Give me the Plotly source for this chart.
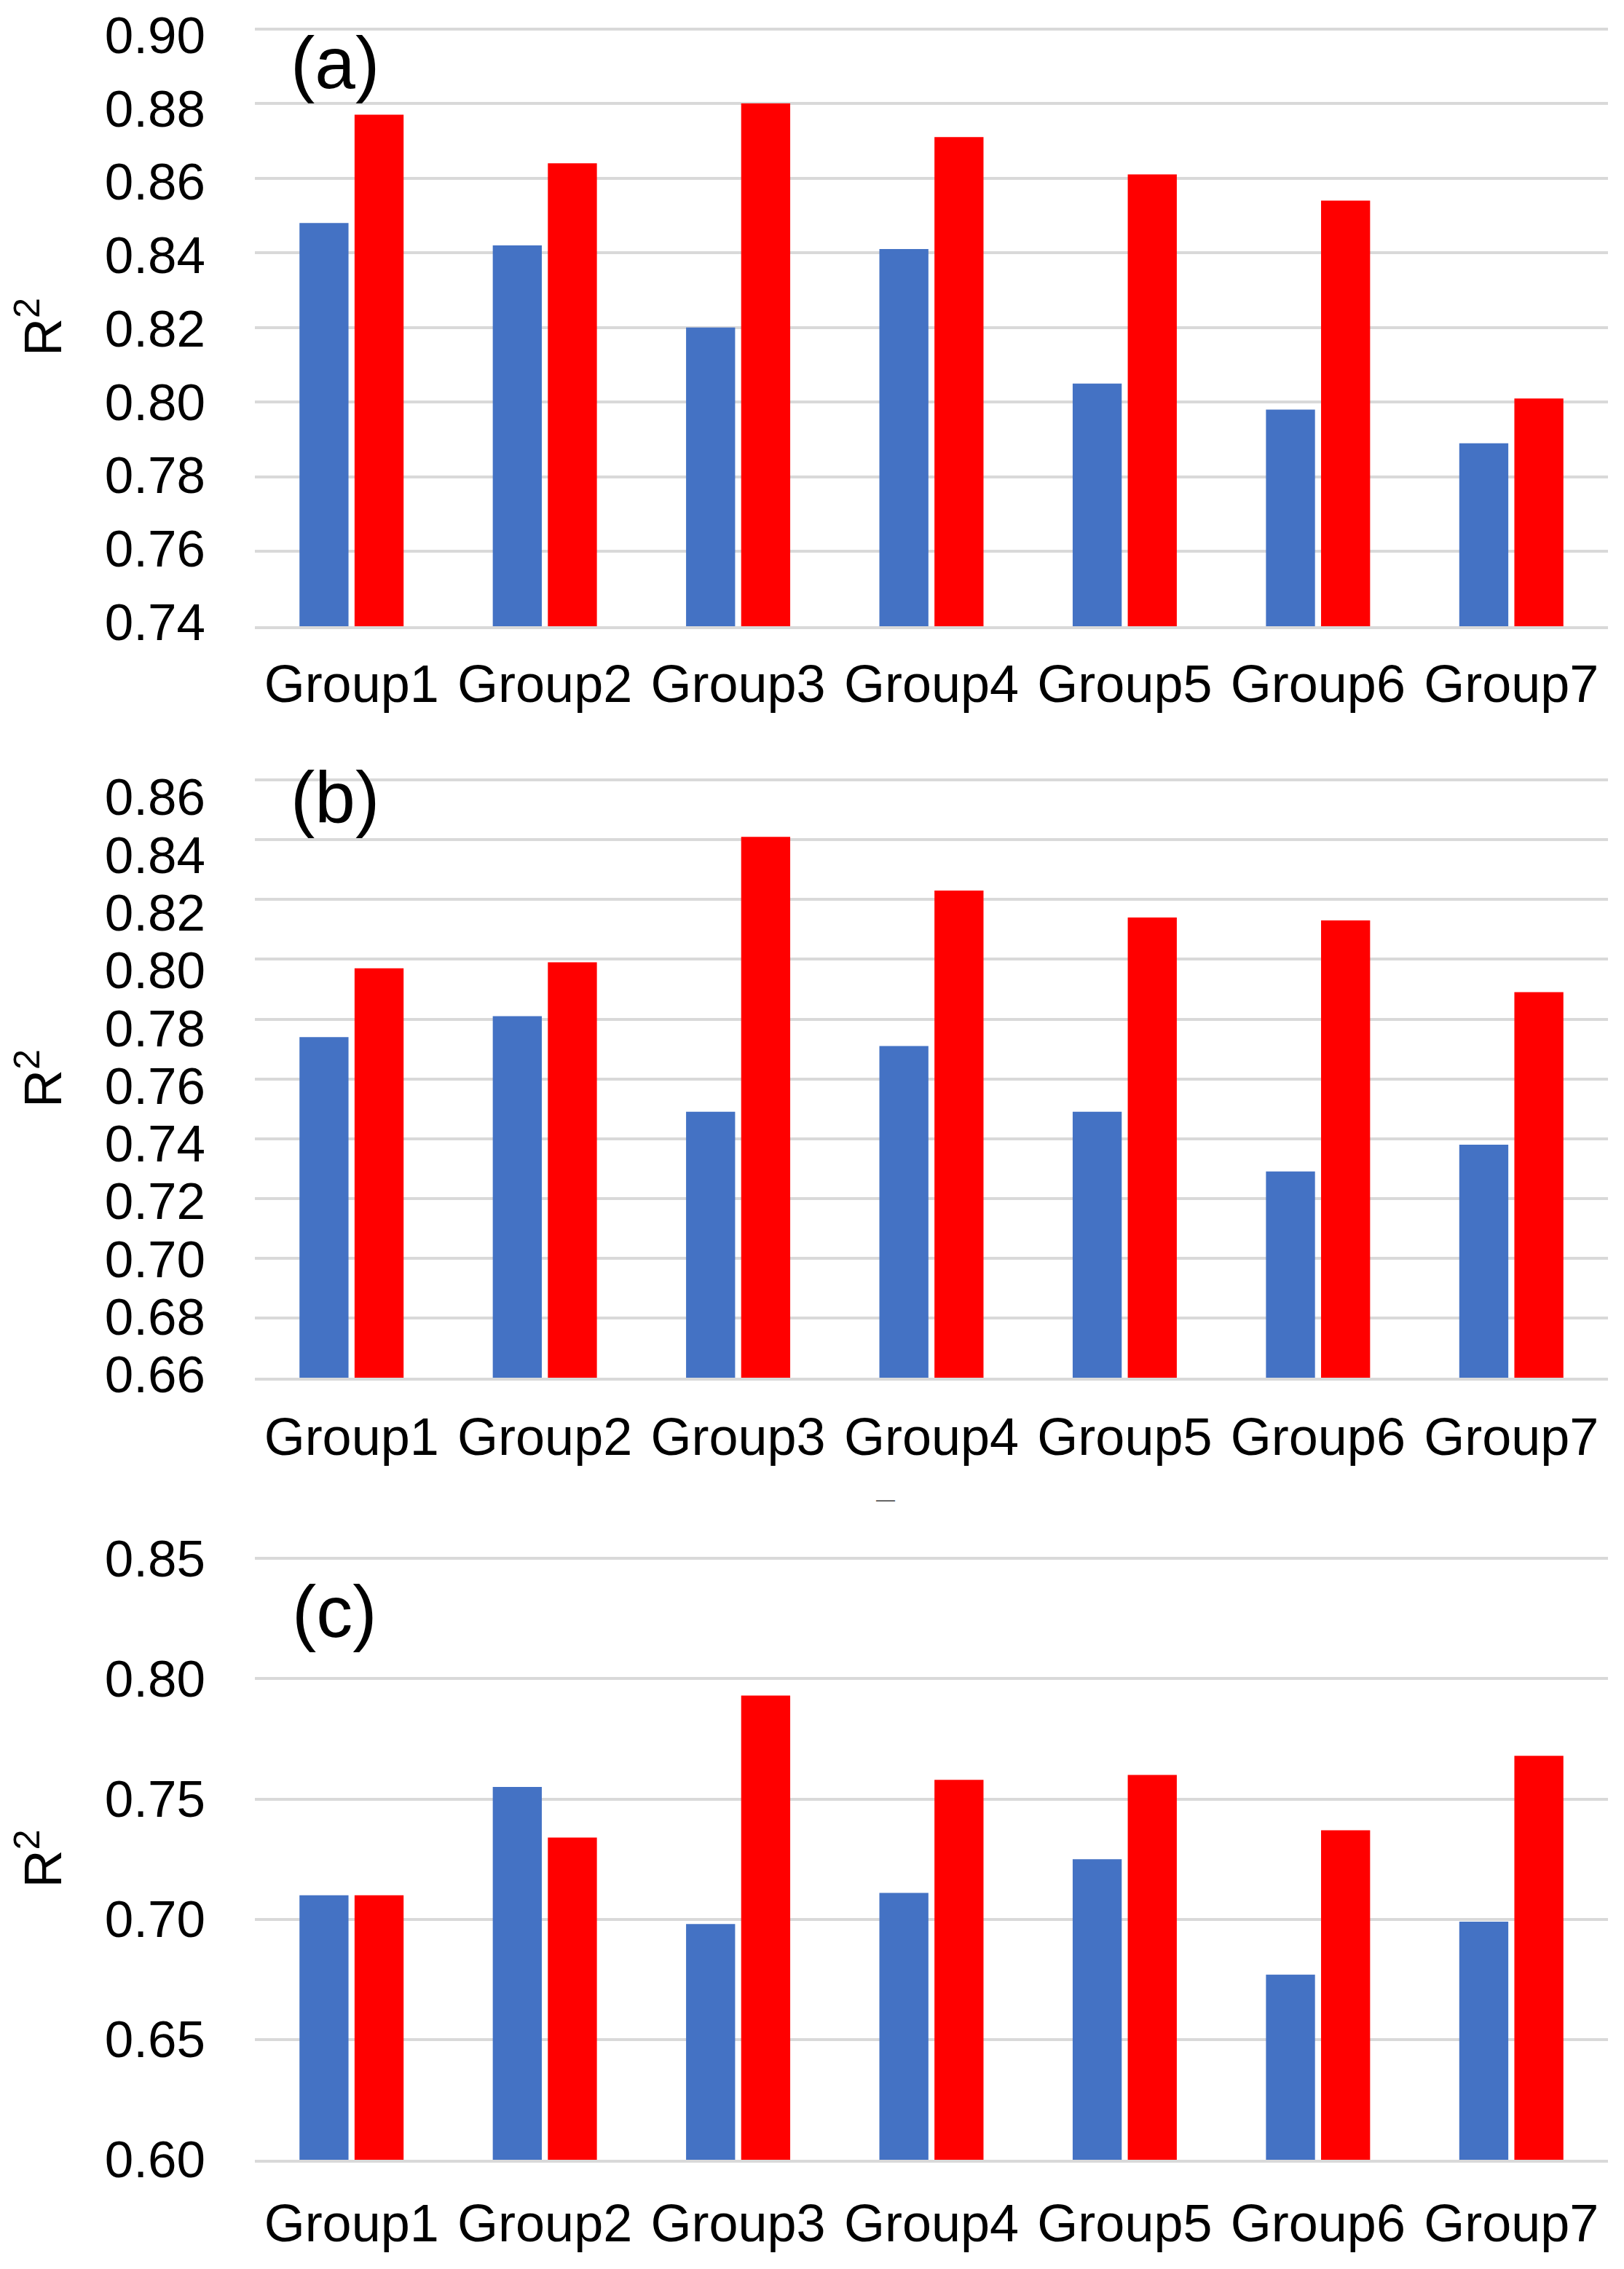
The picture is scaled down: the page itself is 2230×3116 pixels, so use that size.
import plotly.graph_objects as go

groups = ["Group1", "Group2", "Group3", "Group4", "Group5", "Group6", "Group7"]

a_blue = [0.848, 0.842, 0.820, 0.841, 0.805, 0.798, 0.789]
a_red = [0.877, 0.864, 0.880, 0.871, 0.861, 0.854, 0.801]

b_blue = [0.774, 0.781, 0.749, 0.771, 0.749, 0.729, 0.738]
b_red = [0.797, 0.799, 0.841, 0.823, 0.814, 0.813, 0.789]

c_blue = [0.710, 0.755, 0.698, 0.711, 0.725, 0.677, 0.699]
c_red = [0.710, 0.734, 0.793, 0.758, 0.760, 0.737, 0.768]

a_ticks = [0.74, 0.76, 0.78, 0.80, 0.82, 0.84, 0.86, 0.88, 0.90]
b_ticks = [0.66, 0.68, 0.70, 0.72, 0.74, 0.76, 0.78, 0.80, 0.82, 0.84, 0.86]
c_ticks = [0.60, 0.65, 0.70, 0.75, 0.80, 0.85]

panel_labels = ["(a)", "(b)", "(c)"]

BLUE = "#4472C4"
RED = "#FF0000"
GRID = "#D9D9D9"
FONT = "Liberation Sans, Arial, sans-serif"

W, H = 2230, 3116
ml, mr, mt, mb = 342, 30, 30, 158
ph = H - mt - mb

def ydom(top_px, bot_px):
    return [(H - mb - bot_px) / ph, (H - mb - top_px) / ph]

# grid: pixel rows of the first/last gridline; lab: pixel rows where the
# original figure printed the first/last tick label (slightly compressed)
panels = [
    dict(blue=a_blue, red=a_red, ticks=a_ticks, rng=[0.74, 0.9003],
         grid=(30, 852), lab=(38, 848), laby=0.942, xstand=14),
    dict(blue=b_blue, red=b_red, ticks=b_ticks, rng=[0.66, 0.8603],
         grid=(1062, 1884), lab=(1085, 1881), laby=0.969, xstand=16),
    dict(blue=c_blue, red=c_red, ticks=c_ticks, rng=[0.60, 0.8504],
         grid=(2131, 2958), lab=(2131, 2958), laby=0.910, xstand=22),
]

fig = go.Figure()
annotations = []
for i, p in enumerate(panels):
    n = "" if i == 0 else str(i + 1)
    xa, ya = "x" + n, "y" + n
    lab_n = str(i + 4)
    dom = ydom(*p["grid"])
    fig.add_trace(go.Bar(x=groups, y=p["blue"], marker=dict(color=BLUE, line=dict(width=0)),
                         name="Series 1", showlegend=False, xaxis=xa, yaxis=ya))
    fig.add_trace(go.Bar(x=groups, y=p["red"], marker=dict(color=RED, line=dict(width=0)),
                         name="Series 2", showlegend=False, xaxis=xa, yaxis=ya))
    # empty trace so that the tick-label axis gets drawn
    fig.add_trace(go.Scatter(x=[], y=[], mode="markers", showlegend=False,
                             hoverinfo="skip", xaxis=xa, yaxis="y" + lab_n))
    fig.layout["xaxis" + n] = dict(
        domain=[0, 1], anchor=ya, showgrid=False, zeroline=False,
        showline=True, linecolor=GRID, linewidth=4,
        tickfont=dict(family=FONT, size=72, color="#000000"),
        ticks="", ticklabelstandoff=p["xstand"], ticklabeloverflow="allow",
    )
    fig.layout["yaxis" + n] = dict(
        domain=dom, anchor=xa, range=p["rng"], tickvals=p["ticks"],
        showgrid=True, gridcolor=GRID, gridwidth=4,
        zeroline=False, showline=False, ticks="", showticklabels=False,
    )
    # label axis: same ticks, placed where the original printed them
    t0, t1 = p["ticks"][0], p["ticks"][-1]
    g_top, g_bot = p["grid"]
    l_top, l_bot = p["lab"]
    ppu = (l_bot - l_top) / (t1 - t0)
    lab_rng = [t0 - (g_bot - l_bot) / ppu - 0.0004, t1 + (l_top - g_top) / ppu + 0.0004]
    fig.layout["yaxis" + lab_n] = dict(
        domain=dom, anchor=xa, overlaying=ya, side="left", range=lab_rng,
        tickvals=p["ticks"], tickformat=".2f", showgrid=False, zeroline=False,
        showline=False, ticks="", ticklabelstandoff=67, ticklabeloverflow="allow",
        automargin=True,
        tickfont=dict(family=FONT, size=71, color="#000000"),
        title=dict(text="R<sup>2</sup>", font=dict(family=FONT, size=72, color="#000000"),
                   standoff=58),
    )
    annotations.append(dict(
        text=panel_labels[i], xref=xa + " domain", yref=ya + " domain",
        x=0.059, y=p["laby"], xanchor="center", yanchor="middle", showarrow=False,
        font=dict(family=FONT, size=100, color="#000000"),
    ))

# small stray dash below panel (b) in the original figure
annotations.append(dict(
    text="\u2014", xref="paper", yref="paper",
    x=(1208 - ml) / (W - ml - mr), y=(H - mb - 2051) / ph,
    xanchor="center", yanchor="middle", showarrow=False,
    font=dict(family=FONT, size=26, color="#555555"),
))

fig.update_layout(
    width=W, height=H,
    margin=dict(l=ml, r=mr, t=mt, b=mb, autoexpand=False),
    paper_bgcolor="white", plot_bgcolor="white",
    barmode="group", bargap=0.43, bargroupgap=0.11,
    annotations=annotations, showlegend=False,
    font=dict(family=FONT, color="#000000"),
)

fig.write_html("out.html")
